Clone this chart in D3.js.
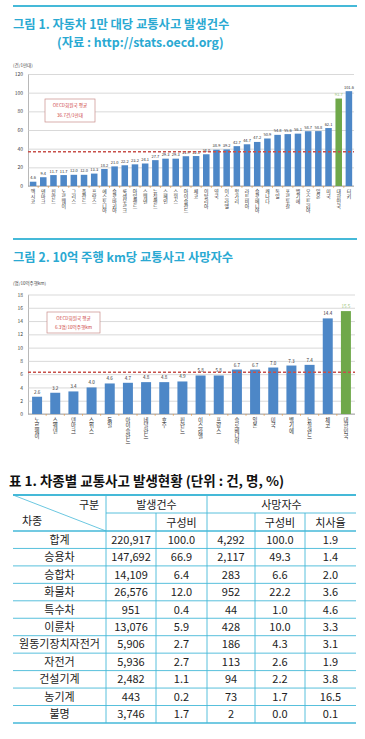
<!DOCTYPE html>
<html><head><meta charset="utf-8">
<script src="https://cdn.jsdelivr.net/npm/d3@7"></script>
<style>
body{margin:0;background:#fff;}
svg{display:block;font-family:"Noto Sans CJK KR","Noto Sans",sans-serif;}
.vlab{writing-mode:vertical-rl;text-orientation:upright;}
</style></head><body>
<svg id="c" width="365" height="739"></svg>
<script>
// ---------- DATA ----------
const title1 = "그림 1. 자동차 1만 대당 교통사고 발생건수";
const source1 = "(자료 : http://stats.oecd.org)";
const unit1 = "(건/1만대)";
const countries1 = ["멕시코","덴마크","핀란드","노르웨이","그리스","폴란드","프랑스","에스토니아","슬로바키아","룩셈부르크","아일랜드","스웨덴","뉴질랜드","스페인","스위스","아이슬란드","체코","이탈리아","영국","이스라엘","헝가리","라트비아","슬로베니아","캐나다","독일","포르투갈","벨기에","오스트리아","일본","미국","대한민국","터키"];
const values1 = [4.6,9.4,11.7,11.7,12.0,12.0,13.3,18.2,21.0,22.2,23.2,24.1,27.7,29.3,29.3,31.9,32.1,34.0,38.9,39.2,42.7,44.7,47.2,50.9,54.8,55.6,56.1,58.7,58.8,62.1,93.7,101.6];
const ticks1 = [0,20,40,60,80,100,120];
const avg1 = 36.7;
const avgNote1 = ["OECD회원국 평균","36.7건/1만대"];

const title2 = "그림 2. 10억 주행 km당 교통사고 사망자수";
const unit2 = "(명/10억주행km)";
const countries2 = ["노르웨이","스웨덴","덴마크","스위스","독일","아이슬란드","네덜란드","호주","핀란드","이스라엘","프랑스","슬로베니아","일본","미국","벨기에","뉴질랜드","체코","대한민국"];
const values2 = [2.6,3.2,3.4,4.0,4.6,4.7,4.8,4.8,4.9,5.8,5.8,6.7,6.7,7.0,7.3,7.4,14.4,15.5];
const ticks2 = [0,2,4,6,8,10,12,14,16,18];
const avg2 = 6.3;
const avgNote2 = ["OECD회원국 평균","6.3명/10억주행km"];
const highlight = "대한민국";

const tableTitle = "표 1. 차종별 교통사고 발생현황 (단위 : 건, 명, %)";
const vehicleTypes = ["합계","승용차","승합차","화물차","특수차","이륜차","원동기장치자전거","자전거","건설기계","농기계","불명"];
const accidents = [220917,147692,14109,26576,951,13076,5906,5936,2482,443,3746];
const accidentShare = [100.0,66.9,6.4,12.0,0.4,5.9,2.7,2.7,1.1,0.2,1.7];
const deaths = [4292,2117,283,952,44,428,186,113,94,73,2];
const deathShare = [100.0,49.3,6.6,22.2,1.0,10.0,4.3,2.6,2.2,1.7,0.0];
const fatalityRate = [1.9,1.4,2.0,3.6,4.6,3.3,3.1,1.9,3.8,16.5,0.1];

// ---------- DRAW ----------
const svg = d3.select("#c");
const CYAN = "#2aa9d2", LINE = "#45b9d8";
const BLUE = "#4d87c7", GREEN = "#6fa84a", RED = "#c8504a";

function header(y, lines){
  svg.append("line").attr("x1",13).attr("x2",357).attr("y1",y).attr("y2",y)
    .attr("stroke",LINE).attr("stroke-width",2);
  lines.forEach(l=>{
    svg.append("text").attr("x",l.x).attr("y",l.y).text(l.t)
      .attr("fill",CYAN).attr("font-size",12.3).attr("font-weight","bold");
  });
}
header(6,[{t:title1,x:13,y:28.5},{t:source1,x:57,y:47}]);
header(239,[{t:title2,x:13,y:261.5}]);

function barChart(o){
  const g = svg.append("g");
  const x = d3.scaleBand().domain(o.cats).range([o.left,o.right]).paddingInner(o.pad).paddingOuter(o.pad/2);
  const y = d3.scaleLinear().domain([0,o.ticks[o.ticks.length-1]]).range([o.bottom,o.top]);
  // y axis with grid
  const ax = g.append("g").attr("transform",`translate(${o.left},0)`)
    .call(d3.axisLeft(y).tickValues(o.ticks).tickSize(-(o.right-o.left)).tickSizeOuter(0).tickPadding(5));
  ax.select(".domain").attr("stroke","#9a9a9a").attr("stroke-width",0.7);
  ax.selectAll(".tick line").attr("stroke","#c9c9c9").attr("stroke-width",0.7);
  ax.selectAll(".tick text").attr("font-size",o.tickFont).attr("fill","#444").attr("font-family","'Noto Sans CJK KR',sans-serif");
  // baseline
  g.append("line").attr("x1",o.left).attr("x2",o.right).attr("y1",y(0)).attr("y2",y(0))
    .attr("stroke","#9a9a9a").attr("stroke-width",0.8);
  // small orange ticks between bars
  g.selectAll("line.bt").data(o.cats.slice(1)).join("line").attr("class","bt")
    .attr("x1",d=>x(d)-x.step()*o.pad/2).attr("x2",d=>x(d)-x.step()*o.pad/2)
    .attr("y1",y(0)).attr("y2",y(0)+1.8).attr("stroke","#e39a4c").attr("stroke-width",0.8);
  // unit
  g.append("text").attr("x",13).attr("y",o.unitY).text(o.unit).attr("font-size",o.tickFont*0.9).attr("fill","#444");
  // bars
  const data = o.cats.map((c,i)=>({c,v:o.vals[i]}));
  g.selectAll("rect.bar").data(data).join("rect").attr("class","bar")
    .attr("x",d=>x(d.c)).attr("width",x.bandwidth())
    .attr("y",d=>y(d.v)).attr("height",d=>y(0)-y(d.v))
    .attr("fill",d=>d.c===highlight?GREEN:BLUE);
  // value labels
  g.selectAll("text.val").data(data).join("text").attr("class","val")
    .attr("x",d=>x(d.c)+x.bandwidth()/2).attr("y",d=>y(d.v)-o.valGap)
    .attr("text-anchor","middle").attr("font-size",o.valFont)
    .attr("fill",d=>d.c===highlight?"#9cc47c":"#333")
    .text(d=>d3.format(".1f")(d.v));
  // average dashed line
  g.append("line").attr("x1",o.left).attr("x2",o.right).attr("y1",y(o.avg)).attr("y2",y(o.avg))
    .attr("stroke",RED).attr("stroke-width",1.4).attr("stroke-dasharray","3,2");
  // category labels (vertical)
  g.selectAll("text.cat").data(data).join("text").attr("class","cat vlab")
    .attr("x",d=>x(d.c)+x.bandwidth()/2).attr("y",y(0)+o.catGap)
    .attr("font-size",o.catFont).attr("fill","#333")
    .text(d=>d.c);
  // note box
  const b = o.box;
  g.append("rect").attr("x",b.x).attr("y",b.y).attr("width",b.w).attr("height",b.h)
    .attr("fill","#fff").attr("stroke","#c98d8a").attr("stroke-width",0.7);
  o.note.forEach((t,i)=>{
    g.append("text").attr("x",b.x+b.w/2).attr("y",b.y+b.h*(i===0?0.36:0.8))
      .attr("text-anchor","middle").attr("font-size",o.noteFont).attr("fill","#cc3b3b").text(t);
  });
}

barChart({cats:countries1, vals:values1, ticks:ticks1, avg:avg1, note:avgNote1, unit:unit1,
  left:28,right:354,top:74,bottom:186,pad:0.36,tickFont:5,valFont:4,valGap:2.5,catFont:4.9,catGap:2.5,
  unitY:67,noteFont:4.6,box:{x:45,y:99,w:50,h:23}});

barChart({cats:countries2, vals:values2, ticks:ticks2, avg:avg2, note:avgNote2, unit:unit2,
  left:28,right:355,top:294.5,bottom:414,pad:0.45,tickFont:5,valFont:4.6,valGap:3,catFont:5.4,catGap:3,
  unitY:285,noteFont:4.6,box:{x:47,y:312,w:53,h:21}});

// ---------- TABLE ----------
svg.append("text").attr("x",9).attr("y",486).text(tableTitle)
  .attr("font-size",13.5).attr("font-weight","bold").attr("fill","#111");

const tL=13, tR=356, tTop=495, tMid=513, tHead=531, rowH=17.45;
const cols=[13,106,156,207,255,305,356];
const centers=cols.slice(0,-1).map((c,i)=>(c+cols[i+1])/2);
const tbl = svg.append("g").attr("font-size",11).attr("fill","#222");
const tEnd = tHead + rowH*vehicleTypes.length;
function hl(y,x1,x2,w){tbl.append("line").attr("x1",x1).attr("x2",x2).attr("y1",y).attr("y2",y).attr("stroke",LINE).attr("stroke-width",w);}
function vl(x,y1,y2){tbl.append("line").attr("x1",x).attr("x2",x).attr("y1",y1).attr("y2",y2).attr("stroke",LINE).attr("stroke-width",0.9);}
hl(tTop,tL,tR,2.2);
hl(tMid,cols[1],tR,0.9);
hl(tHead,tL,tR,1.6);
vehicleTypes.forEach((d,i)=>{ if(i>0) hl(tHead+rowH*i,tL,tR,0.9); });
hl(tEnd,tL,tR,1.4);
vl(cols[1],tTop,tEnd); vl(cols[3],tTop,tEnd);
vl(cols[2],tMid,tEnd); vl(cols[4],tMid,tEnd); vl(cols[5],tMid,tEnd);
tbl.append("line").attr("x1",tL).attr("y1",tTop).attr("x2",cols[1]).attr("y2",tHead).attr("stroke",LINE).attr("stroke-width",0.8);
function txt(x,y,t,anchor){tbl.append("text").attr("x",x).attr("y",y).attr("text-anchor",anchor||"middle").text(t);}
txt(89,509,"구분"); txt(32,525,"차종");
txt((cols[1]+cols[3])/2,509,"발생건수"); txt((cols[3]+cols[6])/2,509,"사망자수");
txt(centers[2],526.5,"구성비"); txt(centers[4],526.5,"구성비"); txt(centers[5],526.5,"치사율");
const f1=d3.format(".1f"), fc=d3.format(",");
vehicleTypes.forEach((d,i)=>{
  const y=tHead+rowH*(i+0.5)+4;
  const row=[d,fc(accidents[i]),f1(accidentShare[i]),fc(deaths[i]),f1(deathShare[i]),f1(fatalityRate[i])];
  row.forEach((t,j)=>txt(centers[j],y,t));
});
</script>
</body></html>
